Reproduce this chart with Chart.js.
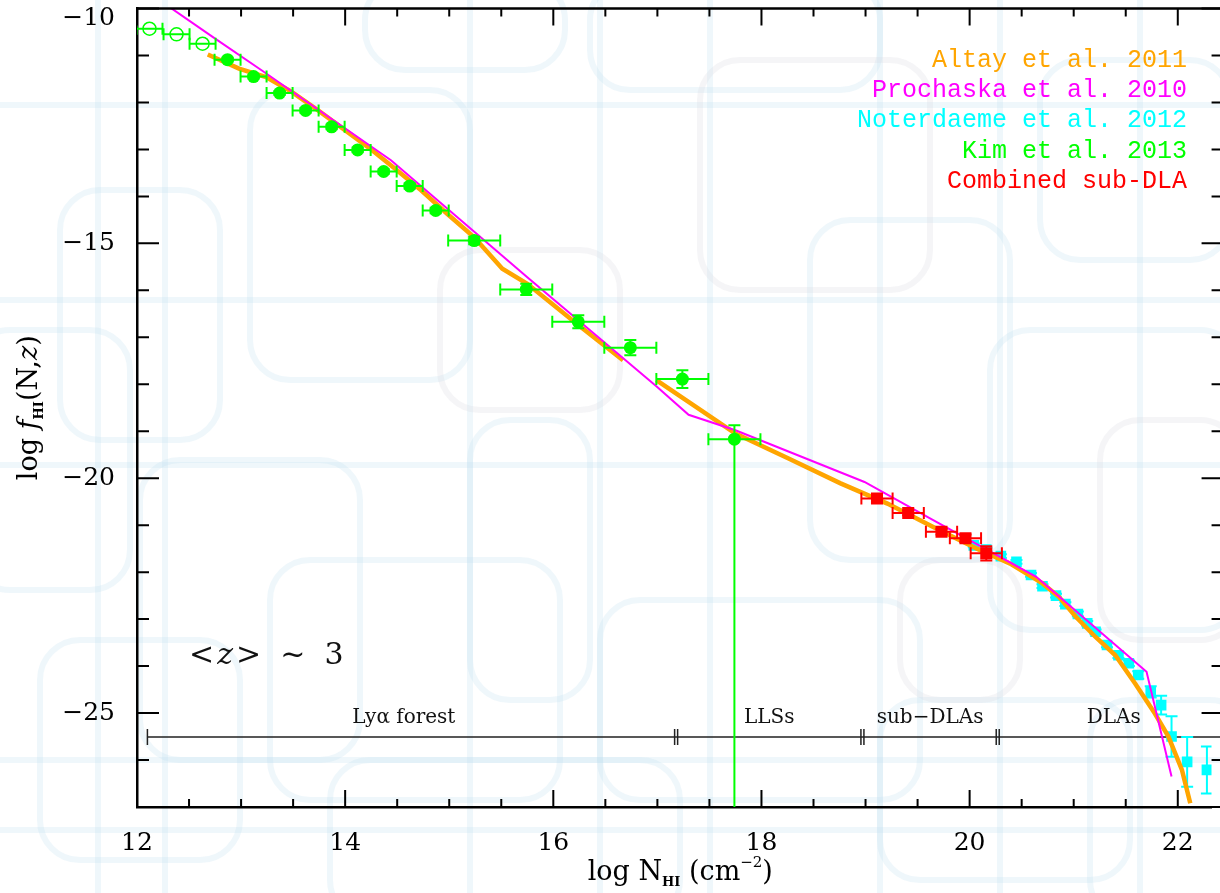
<!DOCTYPE html>
<html>
<head>
<meta charset="utf-8">
<title>f(N,z) at z~3</title>
<script src="https://cdn.jsdelivr.net/npm/chart.js@4.4.1/dist/chart.umd.min.js"></script>
<style>
  html, body { margin: 0; padding: 0; background: #fff; }
</style>
</head>
<body>
<canvas id="fhiChart" width="1220" height="893"></canvas>
<script>
// Altay et al. 2011 (model curve, has a break between the two pieces)
const altayX = [12.68, 12.98, 13.24, 13.49, 13.74, 14.22, 14.48, 14.73, 14.98, 15.24, 15.51, 15.75, 16.24, 16.67,
    null,
    16.99, 17.75, 18.26, 18.76, 19.21, 19.65, 20.07, 20.39, 20.70, 20.86, 21.02, 21.21, 21.40, 21.59, 21.78, 21.91, 22.04, 22.12];
const altayY = [-10.98, -11.28, -11.46, -11.78, -12.17, -12.95, -13.41, -13.87, -14.37, -14.87, -15.54, -15.86, -16.74, -17.49,
    null,
    -17.91, -19.05, -19.58, -20.11, -20.54, -21.04, -21.50, -21.82, -22.24, -22.53, -22.95, -23.38, -23.77, -24.37, -25.01, -25.50, -26.21, -26.92];

// Prochaska et al. 2010 (piecewise fit)
const proX = [12.30, 12.73, 13.20, 14.44, 15.75, 16.99, 17.30, 17.75, 18.99, 19.65, 20.64, 21.70, 21.94];
const proY = [-9.95, -10.61, -11.32, -13.23, -15.72, -18.04, -18.65, -18.98, -20.08, -20.89, -22.10, -24.12, -26.35];

// Noterdaeme et al. 2012
const notX = [20.04, 20.16, 20.30, 20.45, 20.59, 20.70, 20.83, 20.92, 21.04, 21.13, 21.21, 21.32, 21.43, 21.53, 21.62, 21.74, 21.84, 21.94, 22.09, 22.28];
const notY = [-21.43, -21.52, -21.66, -21.78, -22.06, -22.30, -22.50, -22.68, -22.89, -23.09, -23.27, -23.55, -23.77, -23.94, -24.19, -24.55, -24.83, -25.50, -26.04, -26.21];
const notYErr = [0.04, 0.04, 0.04, 0.04, 0.04, 0.04, 0.04, 0.04, 0.05, 0.05, 0.05, 0.05, 0.06, 0.06, 0.08, 0.12, 0.2, 0.43, 0.53, 0.5];

// Kim et al. 2013 (open = incomplete bins)
const kimOpenX = [12.12, 12.38, 12.63];
const kimOpenY = [-10.43, -10.55, -10.75];
const kimOpenXErr = [0.125, 0.125, 0.125];
const kimX = [12.87, 13.12, 13.37, 13.62, 13.87, 14.12, 14.37, 14.62, 14.87, 15.24, 15.74, 16.24, 16.74, 17.24, 17.74];
const kimY = [-11.09, -11.45, -11.80, -12.17, -12.52, -13.01, -13.47, -13.78, -14.30, -14.94, -15.98, -16.67, -17.22, -17.89, -19.17];
const kimXErr = [0.125, 0.125, 0.125, 0.125, 0.125, 0.125, 0.125, 0.125, 0.125, 0.25, 0.25, 0.25, 0.25, 0.25, 0.25];
const kimYErrUp = [0.04, 0.04, 0.04, 0.05, 0.05, 0.05, 0.05, 0.06, 0.06, 0.08, 0.12, 0.14, 0.16, 0.19, 0.30];
const kimYErrLo = [0.04, 0.04, 0.04, 0.05, 0.05, 0.05, 0.05, 0.06, 0.06, 0.08, 0.12, 0.14, 0.16, 0.19, 8.0];

// combined sub-DLA
const subX = [19.11, 19.41, 19.73, 19.96, 20.16];
const subY = [-20.43, -20.74, -21.14, -21.28, -21.60];
const subXErr = [0.15, 0.15, 0.15, 0.15, 0.15];
const subYErr = [0.05, 0.05, 0.06, 0.08, 0.15];

// axes
const xTicks = [12, 14, 16, 18, 20, 22];
const yTicks = [-25, -20, -15, -10];
const xMin = 12, xMax = 22.324, xFrameMax = 22.44;
const yMin = -27, yMax = -10;

// absorber classes along the bottom
const regionEdges = [12.1, 17.18, 18.97, 20.27, 22.5];
const regionNames = ['Lyα forest', 'LLSs', 'sub−DLAs', 'DLAs'];
const regionLineY = -25.51;

const pts = (xs, ys) => xs.map((x, i) => ({ x: x, y: ys[i] }));

const ORANGE = '#ffa500', MAGENTA = '#ff00ff', CYAN = '#00ffff', GREEN = '#00ff00', RED = '#ff0000';

// faint wallpaper behind the plot
const bgRects = [
    [365, -20, 200, 90], [590, -20, 290, 110], [1040, 60, 190, 200], [250, 90, 220, 290],
    [60, 190, 160, 250], [-30, 330, 160, 260], [810, 220, 200, 340], [470, 420, 120, 280],
    [270, 560, 290, 240], [1090, 700, 160, 220], [990, 330, 250, 300], [140, 460, 220, 300],
    [600, 600, 320, 200], [330, 760, 350, 160], [880, 700, 250, 180], [40, 640, 200, 220]
];
const bgGrey = [[700, 60, 230, 230], [440, 250, 180, 160], [1100, 420, 140, 220], [900, 560, 120, 140]];
const bgVLines = [98, 165, 470, 600, 710, 880, 1000, 1140];
const bgHLines = [105, 300, 465, 760, 830];

const background = {
    id: 'background',
    beforeDraw(chart) {
        const ctx = chart.ctx;
        ctx.save();
        ctx.fillStyle = '#fff';
        ctx.fillRect(0, 0, chart.width, chart.height);
        ctx.lineWidth = 6;
        ctx.strokeStyle = 'rgba(190, 222, 238, 0.25)';
        bgVLines.forEach(v => { ctx.beginPath(); ctx.moveTo(v, 0); ctx.lineTo(v, chart.height); ctx.stroke(); });
        bgHLines.forEach(h => { ctx.beginPath(); ctx.moveTo(0, h); ctx.lineTo(chart.width, h); ctx.stroke(); });
        bgRects.forEach(r => { ctx.beginPath(); ctx.roundRect(r[0], r[1], r[2], r[3], 40); ctx.stroke(); });
        ctx.strokeStyle = 'rgba(215, 215, 225, 0.25)';
        bgGrey.forEach(r => { ctx.beginPath(); ctx.roundRect(r[0], r[1], r[2], r[3], 40); ctx.stroke(); });
        ctx.restore();
    }
};

// error bars, drawn just before each dataset's points
const errorBars = {
    id: 'errorBars',
    beforeDatasetDraw(chart, args) {
        const ds = chart.data.datasets[args.index];
        if (!ds.errX && !ds.errUp) return;
        const { ctx, chartArea: a, scales: { x, y } } = chart;
        ctx.save();
        ctx.beginPath();
        ctx.rect(a.left, a.top, a.right - a.left, a.bottom - a.top);
        ctx.clip();
        ctx.strokeStyle = ds.borderColor;
        ctx.lineWidth = 2;
        const cap = 6;
        ds.data.forEach((p, i) => {
            const px = x.getPixelForValue(p.x), py = y.getPixelForValue(p.y);
            ctx.beginPath();
            if (ds.errX) {
                const l = x.getPixelForValue(p.x - ds.errX[i]), r = x.getPixelForValue(p.x + ds.errX[i]);
                ctx.moveTo(l, py); ctx.lineTo(r, py);
                ctx.moveTo(l, py - cap); ctx.lineTo(l, py + cap);
                ctx.moveTo(r, py - cap); ctx.lineTo(r, py + cap);
            }
            if (ds.errUp) {
                const t = y.getPixelForValue(p.y + ds.errUp[i]), b = y.getPixelForValue(p.y - ds.errLo[i]);
                ctx.moveTo(px, t); ctx.lineTo(px, b);
                ctx.moveTo(px - cap, t); ctx.lineTo(px + cap, t);
                ctx.moveTo(px - cap, b); ctx.lineTo(px + cap, b);
            }
            ctx.stroke();
        });
        ctx.restore();
    }
};

// Lya forest / LLS / sub-DLA / DLA bar and the <z> label
const regions = {
    id: 'regions',
    beforeDatasetsDraw(chart) {
        const { ctx, chartArea: a, scales: { x, y } } = chart;
        ctx.save();
        ctx.strokeStyle = '#222';
        ctx.lineWidth = 1.5;
        const ly = y.getPixelForValue(regionLineY);
        ctx.beginPath();
        ctx.moveTo(x.getPixelForValue(regionEdges[0]), ly);
        ctx.lineTo(chart.width, ly);
        const x0 = x.getPixelForValue(regionEdges[0]);
        ctx.moveTo(x0, ly - 8); ctx.lineTo(x0, ly + 8);
        for (let i = 1; i < regionEdges.length - 1; i++) {
            const e = x.getPixelForValue(regionEdges[i]);
            ctx.moveTo(e - 1.5, ly - 8); ctx.lineTo(e - 1.5, ly + 8);
            ctx.moveTo(e + 1.5, ly - 8); ctx.lineTo(e + 1.5, ly + 8);
        }
        ctx.stroke();
        ctx.fillStyle = '#111';
        ctx.font = '20px "DejaVu Serif"';
        ctx.textAlign = 'center';
        ctx.textBaseline = 'alphabetic';
        regionNames.forEach((n, i) => {
            const c = x.getPixelForValue((regionEdges[i] + regionEdges[i + 1]) / 2) - (i === 0 ? 8 : 0);
            ctx.fillText(n, c, ly - 14);
        });
        // <z> ~ 3
        ctx.textAlign = 'left';
        ctx.textBaseline = 'middle';
        let zx = x.getPixelForValue(12.5);
        const zy = y.getPixelForValue(-23.8);
        const parts = [['<', '30px "DejaVu Serif"'], ['z', 'italic 30px "DejaVu Serif"'], ['>  ~  3', '30px "DejaVu Serif"']];
        parts.forEach(p => { ctx.font = p[1]; ctx.fillText(p[0], zx, zy); zx += ctx.measureText(p[0]).width + 3; });
        ctx.restore();
    }
};

function drawRich(ctx, parts, cx, cy) {
    let total = 0;
    parts.forEach(p => { ctx.font = p.font; p.w = ctx.measureText(p.text).width; total += p.w; });
    let xx = cx - total / 2;
    parts.forEach(p => { ctx.font = p.font; ctx.fillText(p.text, xx, cy + (p.dy || 0)); xx += p.w; });
}

// frame, inward ticks on all four sides, axis titles and the coloured legend
const frame = {
    id: 'frame',
    afterDraw(chart) {
        const { ctx, chartArea: a, scales: { x, y } } = chart;
        const right = x.getPixelForValue(xFrameMax);
        ctx.save();
        ctx.strokeStyle = '#000';
        ctx.lineWidth = 2.5;
        ctx.beginPath();
        ctx.moveTo(a.left, a.top); ctx.lineTo(right, a.top);
        ctx.moveTo(right, a.top); ctx.lineTo(right, a.bottom);
        ctx.stroke();
        ctx.lineWidth = 2;
        ctx.beginPath();
        for (let v = xMin; v <= xFrameMax; v += 0.5) {
            const px = x.getPixelForValue(v);
            const len = (v % 2 === 0) ? 17 : 8;
            ctx.moveTo(px, a.bottom); ctx.lineTo(px, a.bottom - len);
            ctx.moveTo(px, a.top); ctx.lineTo(px, a.top + len);
        }
        for (let v = yMin; v <= yMax; v += 1) {
            const py = y.getPixelForValue(v);
            const len = (v % 5 === 0) ? 22 : 12;
            ctx.moveTo(a.left, py); ctx.lineTo(a.left + len, py);
            ctx.moveTo(right, py); ctx.lineTo(right - len, py);
        }
        ctx.stroke();

        ctx.fillStyle = '#000';
        ctx.textAlign = 'left';
        ctx.textBaseline = 'alphabetic';
        drawRich(ctx, [
            { text: 'log N', font: '27px "DejaVu Serif"' },
            { text: 'HI', font: 'bold 13px "DejaVu Serif"', dy: 6 },
            { text: ' (cm', font: '27px "DejaVu Serif"' },
            { text: '−2', font: '15px "DejaVu Serif"', dy: -13 },
            { text: ')', font: '27px "DejaVu Serif"' }
        ], (a.left + right) / 2, 880);

        ctx.save();
        ctx.translate(37, (a.top + a.bottom) / 2);
        ctx.rotate(-Math.PI / 2);
        drawRich(ctx, [
            { text: 'log ', font: '27px "DejaVu Serif"' },
            { text: 'f', font: 'italic 27px "DejaVu Serif"' },
            { text: 'HI', font: 'bold 13px "DejaVu Serif"', dy: 6 },
            { text: '(N,', font: '27px "DejaVu Serif"' },
            { text: 'z', font: 'italic 27px "DejaVu Serif"' },
            { text: ')', font: '27px "DejaVu Serif"' }
        ], 0, 0);
        ctx.restore();

        ctx.textAlign = 'right';
        ctx.textBaseline = 'middle';
        ctx.font = '25px "Liberation Mono"';
        chart.data.datasets.filter(d => d.label).forEach((d, i) => {
            ctx.fillStyle = d.borderColor;
            ctx.fillText(d.label, 1187, 60 + i * 30.3);
        });
        ctx.restore();
    }
};

new Chart(document.getElementById('fhiChart'), {
    type: 'scatter',
    data: {
        datasets: [
            {
                label: 'Altay et al. 2011', data: pts(altayX, altayY), showLine: true, spanGaps: false,
                borderColor: ORANGE, borderWidth: 4.5, pointRadius: 0, order: 4, clip: 0
            },
            {
                label: 'Prochaska et al. 2010', data: pts(proX, proY), showLine: true,
                borderColor: MAGENTA, borderWidth: 2, pointRadius: 0, order: 3, clip: 0
            },
            {
                label: 'Noterdaeme et al. 2012', data: pts(notX, notY), borderColor: CYAN, backgroundColor: CYAN,
                pointStyle: 'rect', pointRadius: 7.5, borderWidth: 0, order: 5,
                errUp: notYErr, errLo: notYErr
            },
            {
                label: 'Kim et al. 2013', data: pts(kimX, kimY), borderColor: GREEN, backgroundColor: GREEN,
                pointRadius: 6.5, borderWidth: 0, order: 2,
                errX: kimXErr, errUp: kimYErrUp, errLo: kimYErrLo
            },
            {
                label: 'Combined sub-DLA', data: pts(subX, subY), borderColor: RED, backgroundColor: RED,
                pointStyle: 'rect', pointRadius: 8.5, borderWidth: 0, order: 1,
                errX: subXErr, errUp: subYErr, errLo: subYErr
            },
            {
                label: '', data: pts(kimOpenX, kimOpenY), borderColor: GREEN, backgroundColor: 'rgba(0,0,0,0)',
                pointRadius: 6.5, borderWidth: 1.5, order: 2, errX: kimOpenXErr
            }
        ]
    },
    options: {
        responsive: false,
        animation: false,
        events: [],
        layout: { padding: { top: 8, left: 0, right: 0, bottom: 0 } },
        plugins: { legend: { display: false }, tooltip: { enabled: false } },
        scales: {
            x: {
                type: 'linear', min: xMin, max: xMax,
                grid: { display: false },
                border: { display: true, color: '#000', width: 2.5 },
                afterBuildTicks: s => { s.ticks = xTicks.map(v => ({ value: v })); },
                afterFit: s => { s.height = 86; s.paddingLeft = 0; s.paddingRight = 0; },
                ticks: { padding: 13, color: '#000', font: { family: 'DejaVu Serif', size: 25 }, maxRotation: 0 }
            },
            y: {
                type: 'linear', min: yMin, max: yMax,
                grid: { display: false },
                border: { display: true, color: '#000', width: 2.5 },
                afterBuildTicks: s => { s.ticks = yTicks.map(v => ({ value: v })); },
                afterFit: s => { s.width = 137; s.paddingTop = 0; s.paddingBottom = 0; },
                ticks: {
                    padding: 14, color: '#000', font: { family: 'DejaVu Serif', size: 25, lineHeight: 0.8 },
                    // the top label sits just below the frame, as in the original
                    callback: v => v === yMax ? ['', '−' + Math.abs(v)] : '−' + Math.abs(v)
                }
            }
        }
    },
    plugins: [background, errorBars, regions, frame]
});
</script>
</body>
</html>
